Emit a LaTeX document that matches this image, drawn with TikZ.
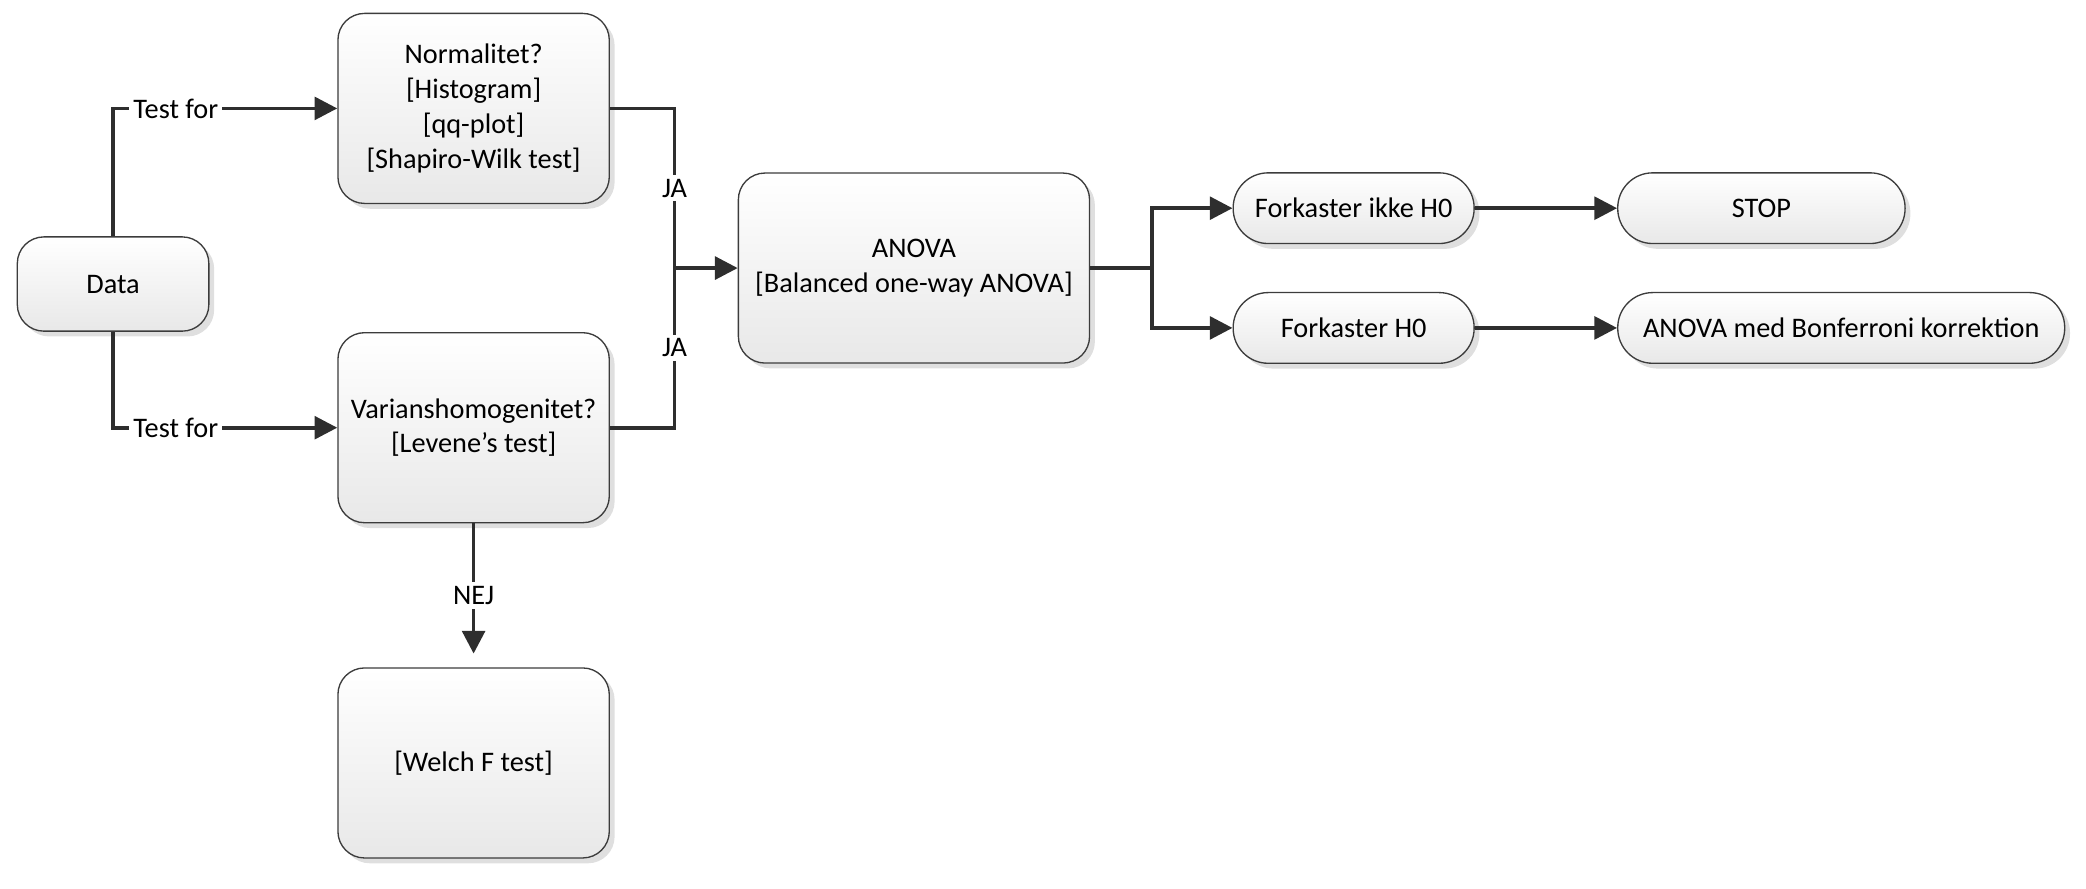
\documentclass[tikz,border=0pt]{standalone}
\usepackage{fontspec}
\setmainfont{Carlito}
\usepackage{tikz}
\usetikzlibrary{arrows.meta,shadows}

\definecolor{linegray}{HTML}{2E2E2E}
\definecolor{boxgray}{HTML}{3C3C3C}

\begin{document}
\begin{tikzpicture}[x=0.0175cm, y=-0.0175cm, thick,
    font=\fontsize{10.6}{13}\selectfont,
    box/.style={draw=boxgray, line width=0.5pt, align=center, inner sep=0pt,
                top color=white, bottom color=gray!18,
                drop shadow={shadow xshift=0.07cm, shadow yshift=-0.07cm,
                             opacity=0.25, fill=gray}},
    big node/.style={box, rounded corners=0.35cm,
                     minimum width=3.57cm, minimum height=2.5cm},
    pill node/.style={box, rounded corners=0.46cm, minimum height=0.93cm},
    conn/.style={draw=linegray, line width=1.4pt},
    arrow/.style={conn, -{Triangle[length=8.5pt,width=8.5pt]}},
    lbl/.style={fill=white, inner sep=1.5pt}]
  \useasboundingbox (0,0) rectangle (1568,667.5);

  \node[box, rounded corners=0.35cm, minimum width=2.52cm, minimum height=1.24cm]
    (data) at (85,213.5) {Data};
  \node[big node] (norm) at (356,81.5)
    {Normalitet?\\{[Histogram]}\\{[qq-plot]}\\{[Shapiro-Wilk test]}};
  \node[big node] (vari) at (356,321.5) {Varianshomogenitet?\\{[Levene’s test]}};
  \node[big node] (welch) at (356,573.5) {[Welch F test]};
  \node[big node, minimum width=4.62cm] (anova) at (687,201.5)
    {ANOVA\\{[Balanced one-way ANOVA]}};
  \node[pill node, minimum width=3.17cm] (keep) at (1017.5,156.5) {Forkaster ikke H0};
  \node[pill node, minimum width=3.17cm] (reject) at (1017.5,246.5) {Forkaster H0};
  \node[pill node, minimum width=3.78cm] (stop) at (1324,156.5) {STOP};
  \node[pill node, minimum width=5.88cm] (bonf) at (1384,246.5)
    {ANOVA med Bonferroni korrektion};

  \coordinate (merge) at (507,201.5);
  \coordinate (split) at (866,201.5);

  \draw[arrow] (data.north) |- node[lbl, pos=0.64] {Test for} (norm.west);
  \draw[arrow] (data.south) |- node[lbl, pos=0.64] {Test for} (vari.west);
  \draw[conn] (norm.east) -| node[lbl, pos=0.75] {JA} (merge);
  \draw[conn] (vari.east) -| node[lbl, pos=0.75] {JA} (merge);
  \draw[arrow] (merge) -- (anova.west);
  \draw[arrow, shorten >=0.18cm] (vari.south) -- node[lbl] {NEJ} (welch.north);
  \draw[conn] (anova.east) -- (split);
  \draw[arrow] (split) |- (keep.west);
  \draw[arrow] (split) |- (reject.west);
  \draw[arrow] (keep.east) -- (stop.west);
  \draw[arrow] (reject.east) -- (bonf.west);
\end{tikzpicture}
\end{document}
